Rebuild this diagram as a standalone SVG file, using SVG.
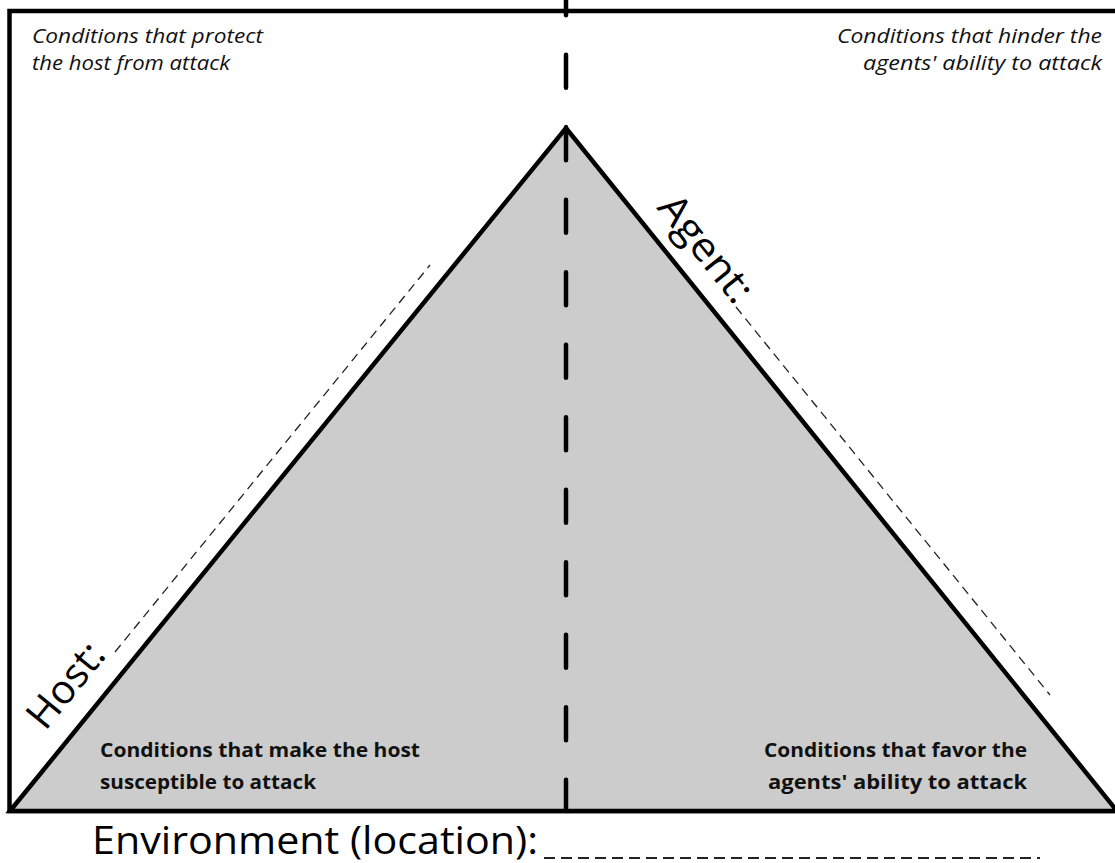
<svg xmlns="http://www.w3.org/2000/svg" width="1115" height="863" viewBox="0 0 1115 863">
  <style>
    .frame { fill: none; stroke: #000; stroke-width: 4.5; }
    .tri { fill: #cccccc; stroke: #000; stroke-width: 4.5; stroke-linejoin: miter; }
    .axis { fill: none; stroke: #000; stroke-width: 4.5; stroke-linecap: round; stroke-dasharray: 33 39.5; }
    .guide { fill: none; stroke: #222; stroke-width: 1.3; stroke-dasharray: 9 6; }
    .blank { fill: none; stroke: #222; stroke-width: 2; stroke-dasharray: 11 6; }
    .note { font-family: "Open Sans", "Noto Sans", sans-serif; font-style: italic; font-size: 19.5px; fill: #111; }
    .cond { font-family: "Open Sans", "Noto Sans", sans-serif; font-weight: bold; font-size: 20px; fill: #111; }
    .label { font-family: "Open Sans", "Noto Sans", sans-serif; font-size: 40px; fill: #000; }
    .env { font-family: "Open Sans", "Noto Sans", sans-serif; font-size: 38px; fill: #000; }
  </style>

  <g id="frame">
    <rect class="frame" x="9.5" y="11" width="1120" height="800"/>
  </g>

  <g id="triangle">
    <polygon class="tri" points="10,811 566,128 1117,811"/>
  </g>

  <g id="connectors">
    <path class="axis" d="M566,-17.75 V811"/>
    <line class="guide" x1="115" y1="652" x2="430" y2="265"/>
    <line class="guide" x1="736" y1="307" x2="1050" y2="695"/>
    <line class="blank" x1="544" y1="858" x2="1040" y2="858"/>
  </g>

  <g id="host-protect">
    <text class="note" x="32" y="43" textLength="231" lengthAdjust="spacingAndGlyphs">Conditions that protect</text>
    <text class="note" x="32" y="70" textLength="198" lengthAdjust="spacingAndGlyphs">the host from attack</text>
  </g>

  <g id="agent-hinder">
    <text class="note" x="1102" y="43" text-anchor="end" textLength="265" lengthAdjust="spacingAndGlyphs">Conditions that hinder the</text>
    <text class="note" x="1102" y="70" text-anchor="end" textLength="239" lengthAdjust="spacingAndGlyphs">agents' ability to attack</text>
  </g>

  <g id="host-susceptible">
    <text class="cond" x="100" y="757" textLength="320" lengthAdjust="spacingAndGlyphs">Conditions that make the host</text>
    <text class="cond" x="100" y="789" textLength="216" lengthAdjust="spacingAndGlyphs">susceptible to attack</text>
  </g>

  <g id="agent-favor">
    <text class="cond" x="1027" y="757" text-anchor="end" textLength="263" lengthAdjust="spacingAndGlyphs">Conditions that favor the</text>
    <text class="cond" x="1027" y="789" text-anchor="end" textLength="259" lengthAdjust="spacingAndGlyphs">agents' ability to attack</text>
  </g>

  <g id="host-label">
    <text class="label" transform="translate(45.3,731.7) rotate(-50.85)" textLength="98" lengthAdjust="spacingAndGlyphs">Host:</text>
  </g>

  <g id="agent-label">
    <text class="label" transform="translate(656,208) rotate(51.2)" textLength="126" lengthAdjust="spacingAndGlyphs">Agent:</text>
  </g>

  <g id="environment">
    <text class="env" x="92" y="854" textLength="446" lengthAdjust="spacingAndGlyphs">Environment (location):</text>
  </g>
</svg>
